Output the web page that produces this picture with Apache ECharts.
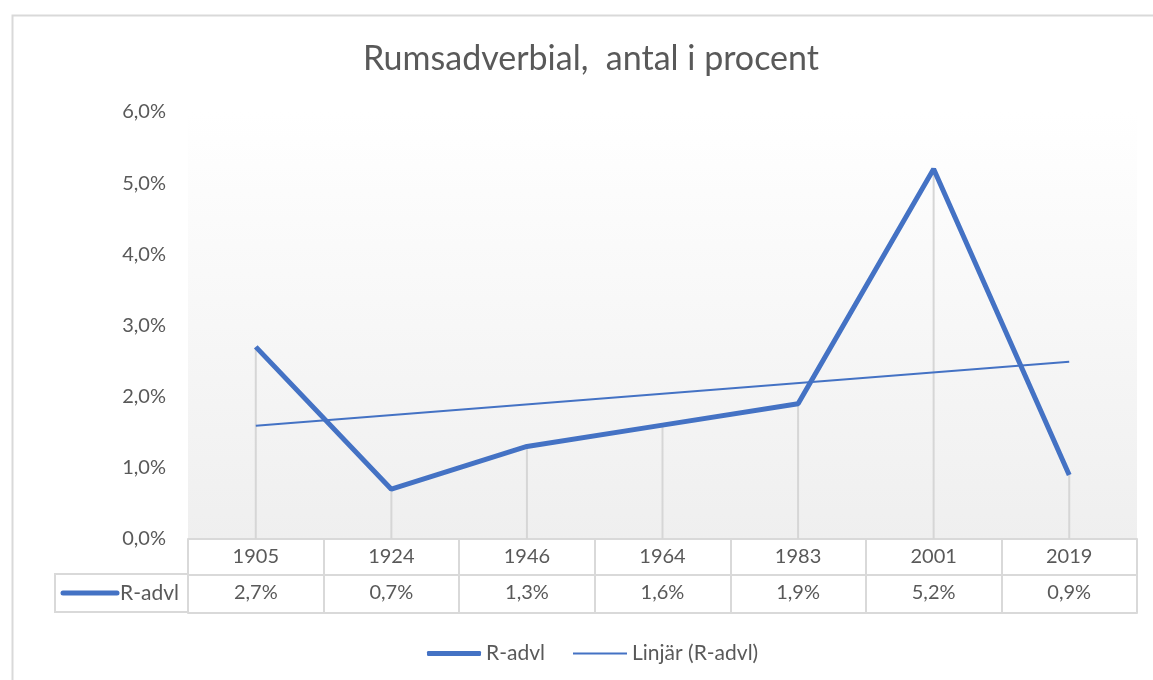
<!DOCTYPE html>
<html>
<head>
<meta charset="utf-8">
<title>Rumsadverbial</title>
<script src="https://cdn.jsdelivr.net/npm/echarts@6/dist/echarts.min.js"></script>
<style>
  html, body { margin: 0; padding: 0; background: #fff; }
  #main { width: 1153px; height: 680px; }
</style>
</head>
<body>
<div id="main"></div>
<script>
// data
var years = ['1905', '1924', '1946', '1964', '1983', '2001', '2019'];
var rAdvl = [2.7, 0.7, 1.3, 1.6, 1.9, 5.2, 0.9];
// trendline end points (first / last year)
var trendEnds = [1.59, 2.49];
var yTicks = [0, 1, 2, 3, 4, 5, 6];
var seriesName = 'R-advl';
var trendName = 'Linjär (R-advl)';

var fontFam = 'Lato, "Open Sans", sans-serif';
var txt = '#595959';
var border = '#d9d9d9';
var blue = '#4472C4';

function pct(v) {
  return v.toFixed(1).replace('.', ',') + '%';
}

var chart = echarts.init(document.getElementById('main'));

chart.setOption({
  animation: false,
  backgroundColor: '#fff',
  textStyle: { fontFamily: fontFam },
  title: {
    text: 'Rumsadverbial,  antal i procent',
    left: 358,
    top: 37,
    textStyle: { color: txt, fontSize: 34, fontWeight: 'normal', fontFamily: fontFam }
  },
  legend: [
    {
      left: 422,
      top: 638,
      itemWidth: 54,
      itemHeight: 5,
      icon: 'roundRect',
      data: [seriesName],
      textStyle: { color: txt, fontSize: 21, fontFamily: fontFam }
    },
    {
      left: 568,
      top: 638,
      itemWidth: 54,
      itemHeight: 2,
      icon: 'rect',
      data: [trendName],
      textStyle: { color: txt, fontSize: 21, fontFamily: fontFam }
    }
  ],
  grid: {
    left: 188,
    right: 16,
    top: 112,
    bottom: 141,
    show: true,
    borderWidth: 0,
    backgroundColor: new echarts.graphic.LinearGradient(0, 0, 0, 1, [
      { offset: 0, color: '#ffffff' },
      { offset: 1, color: '#efefef' }
    ])
  },
  xAxis: [
    {
      type: 'category',
      data: years,
      position: 'bottom',
      boundaryGap: true,
      axisLine: { lineStyle: { color: border, width: 2 } },
      axisTick: { show: true, length: 36, lineStyle: { color: border, width: 2 } },
      axisLabel: { color: txt, fontSize: 20, margin: 8, fontFamily: fontFam },
      splitLine: { show: false }
    },
    {
      type: 'category',
      data: years,
      position: 'bottom',
      offset: 36,
      boundaryGap: true,
      axisLine: { lineStyle: { color: border, width: 2 } },
      axisTick: { show: true, length: 38, lineStyle: { color: border, width: 2 } },
      axisLabel: {
        color: txt, fontSize: 20, margin: 8, fontFamily: fontFam,
        formatter: function (v, i) { return pct(rAdvl[i]); }
      },
      splitLine: { show: false }
    },
    {
      type: 'category',
      data: years,
      position: 'bottom',
      offset: 74,
      boundaryGap: true,
      axisLine: { lineStyle: { color: border, width: 2 } },
      axisTick: { show: false },
      axisLabel: { show: false },
      splitLine: { show: false }
    }
  ],
  yAxis: {
    type: 'value',
    min: yTicks[0],
    max: yTicks[yTicks.length - 1],
    interval: 1,
    axisLine: { show: false },
    axisTick: { show: false },
    splitLine: { show: false },
    axisLabel: {
      color: txt, fontSize: 20, margin: 22, fontFamily: fontFam,
      formatter: function (v) { return pct(v); }
    }
  },
  series: [
    {
      // drop lines
      name: 'drop',
      type: 'bar',
      data: rAdvl,
      barWidth: 2,
      silent: true,
      itemStyle: { color: '#d6d6d6' },
      z: 1
    },
    {
      name: seriesName,
      type: 'line',
      data: rAdvl,
      symbol: 'none',
      lineStyle: { color: blue, width: 5 },
      itemStyle: { color: blue },
      z: 3
    },
    {
      name: trendName,
      type: 'line',
      data: [[0, trendEnds[0]], [years.length - 1, trendEnds[1]]],
      symbol: 'none',
      lineStyle: { color: blue, width: 2 },
      itemStyle: { color: blue },
      z: 4
    }
  ],
  graphic: [
    {
      type: 'rect',
      left: 10, top: 13,
      shape: { width: 1200, height: 720 },
      style: { fill: 'none', stroke: border, lineWidth: 2 },
      silent: true
    },
    {
      type: 'polyline',
      shape: { points: [[188, 574], [55, 574], [55, 612], [188, 612]] },
      style: { fill: 'none', stroke: border, lineWidth: 2 },
      silent: true
    },
    {
      type: 'line',
      shape: { x1: 63, y1: 593, x2: 117, y2: 593 },
      style: { stroke: blue, lineWidth: 5, lineCap: 'round' },
      silent: true
    },
    {
      type: 'text',
      x: 120, y: 593,
      style: {
        text: seriesName, fill: txt, fontSize: 21, fontFamily: fontFam,
        textAlign: 'left', textVerticalAlign: 'middle'
      },
      silent: true
    }
  ]
});
</script>
</body>
</html>
